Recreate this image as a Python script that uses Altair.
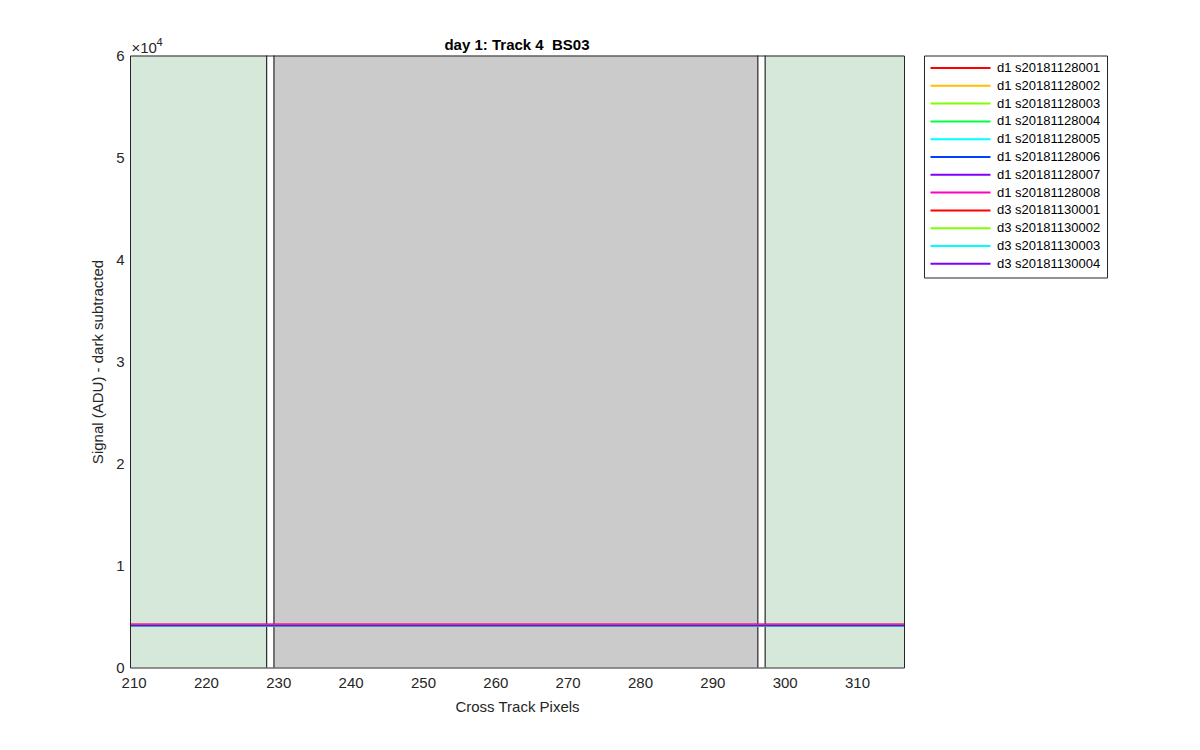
import altair as alt
import pandas as pd

# ---------------- data ----------------
series_labels = [
    "d1 s20181128001", "d1 s20181128002", "d1 s20181128003", "d1 s20181128004",
    "d1 s20181128005", "d1 s20181128006", "d1 s20181128007", "d1 s20181128008",
    "d3 s20181130001", "d3 s20181130002", "d3 s20181130003", "d3 s20181130004",
]
series_colors = [
    "#FF0000", "#FFBF00", "#80FF00", "#00FF40",
    "#00FFFF", "#0040FF", "#8000FF", "#FF00BF",
    "#FF0000", "#80FF00", "#00FFFF", "#8000FF",
]
series_levels = [4110, 4110, 4110, 4110, 4110, 4080, 4060, 4240, 4220, 4110, 4110, 4120]
line_x = [209.5, 316.5]

green_x0 = [209.5, 297.3]
green_x1 = [228.4, 316.5]
gray_x0 = [229.4]
gray_x1 = [296.3]
divider_x = [228.4, 229.4, 296.3, 297.3]

x_domain = [209.5, 316.5]
x_ticks = [210, 220, 230, 240, 250, 260, 270, 280, 290, 300, 310]
y_domain = [0, 60000]
y_ticks = [0, 10000, 20000, 30000, 40000, 50000, 60000]

title_text = "day 1: Track 4\u00a0 BS03"
x_title = "Cross Track Pixels"
y_title = "Signal (ADU) - dark subtracted"
exp_base = "×10"
exp_power = "4"

# ---------------- layout / style ----------------
W, H = 774, 612
FONT = "Liberation Sans"
TXT = "#262626"
FS = 15

line_df = pd.DataFrame(
    [{"series": s, "x": x, "y": v} for s, v in zip(series_labels, series_levels) for x in line_x]
)
green_df = pd.DataFrame({"x0": green_x0, "x1": green_x1,
                         "y0": [y_domain[0]] * len(green_x0), "y1": [y_domain[1]] * len(green_x0)})
gray_df = pd.DataFrame({"x0": gray_x0, "x1": gray_x1,
                        "y0": [y_domain[0]] * len(gray_x0), "y1": [y_domain[1]] * len(gray_x0)})
div_df = pd.DataFrame({"x": divider_x, "y0": [y_domain[0]] * len(divider_x),
                       "y1": [y_domain[1]] * len(divider_x)})

xs = alt.Scale(domain=x_domain, nice=False, zero=False)
ys = alt.Scale(domain=y_domain, nice=False, zero=False)

common_axis = dict(grid=False, ticks=False, domainColor=TXT, domainWidth=1,
                   labelColor=TXT, titleColor=TXT, labelFont=FONT, titleFont=FONT,
                   labelFontSize=FS, titleFontSize=FS, titleFontWeight="normal", zindex=1)

bottom_axis = alt.Axis(orient="bottom", values=x_ticks, title=x_title, labelPadding=8,
                       titlePadding=9, labelFlush=False, **common_axis)
left_axis = alt.Axis(orient="left", values=y_ticks, title=y_title, labelPadding=6,
                     titlePadding=10, labelExpr="datum.value / 10000", labelFlush=False,
                     **common_axis)
top_axis = alt.Axis(orient="top", labels=False, title=None, **common_axis)
right_axis = alt.Axis(orient="right", labels=False, title=None, **common_axis)

green = alt.Chart(green_df).mark_rect(color="#d5e8d9").encode(
    x=alt.X("x0:Q", scale=xs, axis=bottom_axis), x2="x1",
    y=alt.Y("y0:Q", scale=ys, axis=left_axis), y2="y1",
)
gray = alt.Chart(gray_df).mark_rect(color="#cbcbcb").encode(
    x=alt.X("x0:Q", scale=xs, axis=None), x2="x1",
    y=alt.Y("y0:Q", scale=ys, axis=None), y2="y1",
)
rules = alt.Chart(div_df).mark_rule(color="black", strokeWidth=1).encode(
    x=alt.X("x:Q", scale=xs, axis=top_axis),
    y=alt.Y("y0:Q", scale=ys, axis=right_axis), y2="y1",
)

lines = alt.Chart(line_df).mark_line(strokeWidth=1.6, clip=True).encode(
    x=alt.X("x:Q", scale=xs, axis=None),
    y=alt.Y("y:Q", scale=ys, axis=None),
    color=alt.Color(
        "series:N",
        scale=alt.Scale(domain=series_labels, range=series_colors),
        legend=alt.Legend(
            orient="none", legendX=794, legendY=0, title=None,
            symbolType="M-6,0H6", symbolSize=100, symbolStrokeWidth=2,
            symbolOffset=24, labelOffset=30, padding=6, rowPadding=3.8,
            labelFontSize=13, labelFont=FONT, labelColor="black",
            fillColor="white", strokeColor="#262626", labelLimit=220,
        ),
    ),
)

title_mark = alt.Chart(pd.DataFrame({"t": [title_text]})).mark_text(
    font=FONT, fontSize=FS, fontWeight="bold", color="black", align="center", baseline="middle"
).encode(text="t:N", x=alt.value(W / 2), y=alt.value(-10.5))

exp_mark = alt.Chart(pd.DataFrame({"t": [exp_base]})).mark_text(
    font=FONT, fontSize=FS, color=TXT, align="left", baseline="middle"
).encode(text="t:N", x=alt.value(1.5), y=alt.value(-7.5))

pow_mark = alt.Chart(pd.DataFrame({"t": [exp_power]})).mark_text(
    font=FONT, fontSize=11, color=TXT, align="left", baseline="middle"
).encode(text="t:N", x=alt.value(26.5), y=alt.value(-13))

chart = alt.layer(green, gray, rules, lines, title_mark, exp_mark, pow_mark).properties(
    width=W, height=H,
    autosize=alt.AutoSizeParams(type="none"),
    padding={"left": 122, "top": 47.5, "right": 220, "bottom": 70},
).configure(font=FONT).configure_view(stroke=None)

chart.save("out.html", embed_options={"renderer": "svg", "actions": False})
